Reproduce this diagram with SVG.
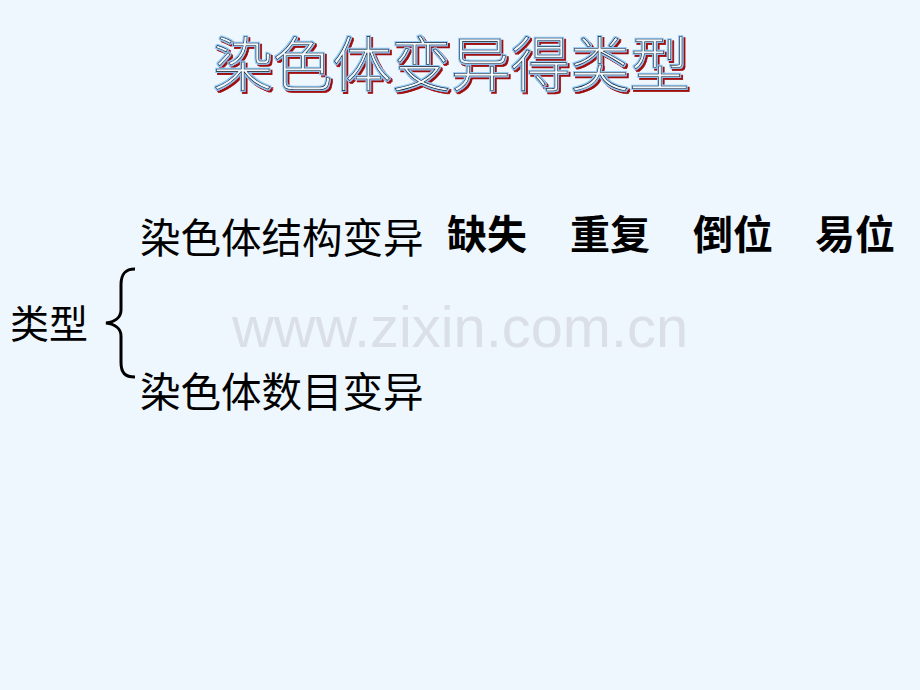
<svg xmlns="http://www.w3.org/2000/svg" width="920" height="690" viewBox="0 0 920 690">
<style>
.cjk{font-family:"Noto Sans CJK SC","Noto Sans CJK TC",sans-serif;fill:#000}
.title{font-family:"Noto Sans CJK SC",sans-serif;font-size:59.5px;font-weight:300}
.wm{font-family:"Liberation Sans",Arial,sans-serif;font-size:57.8px;fill:#dbe0e8}
</style>
<defs>
<filter id="ttl" x="-5%" y="-25%" width="112%" height="160%">
<feMorphology in="SourceAlpha" operator="dilate" radius="1.2" result="d"/>
<feOffset in="d" dx="2" dy="2" result="so"/>
<feFlood flood-color="#a01010"/>
<feComposite in2="so" operator="in" result="shadow"/>
<feFlood flood-color="#8ec8f6"/>
<feComposite in2="d" operator="in" result="blue"/>
<feMerge><feMergeNode in="shadow"/><feMergeNode in="blue"/><feMergeNode in="SourceGraphic"/></feMerge>
</filter>
</defs>
<rect width="920" height="690" fill="#eef6fe"/>
<g id="watermark"><text class="wm" x="232" y="347">www.zixin.com.cn</text></g>
<g id="title">
<text class="title" x="213" y="86" fill="#eef6fe" stroke="#000" stroke-width="0.6" filter="url(#ttl)">染色体变异得类型</text>
</g>
<g id="type"><text class="cjk" x="10" y="338" font-size="39">类型</text></g>
<g id="structure"><text class="cjk" x="140" y="253" font-size="40.5">染色体结构变异</text></g>
<g id="number"><text class="cjk" x="140" y="407" font-size="40.5">染色体数目变异</text></g>
<g id="kinds" font-weight="bold">
<text class="cjk" x="447" y="249" font-size="40">缺失</text>
<text class="cjk" x="570" y="249" font-size="40">重复</text>
<text class="cjk" x="693" y="249" font-size="40">倒位</text>
<text class="cjk" x="815" y="249" font-size="40">易位</text>
</g>
<g id="connectors">
<path d="M135,269 C125,269 121,274 121,285 L121,310 C121,318 114,322 106,323 C114,324 121,328 121,336 L121,362 C121,373 125,377 135,377" fill="none" stroke="#000" stroke-width="3"/>
</g>
</svg>
